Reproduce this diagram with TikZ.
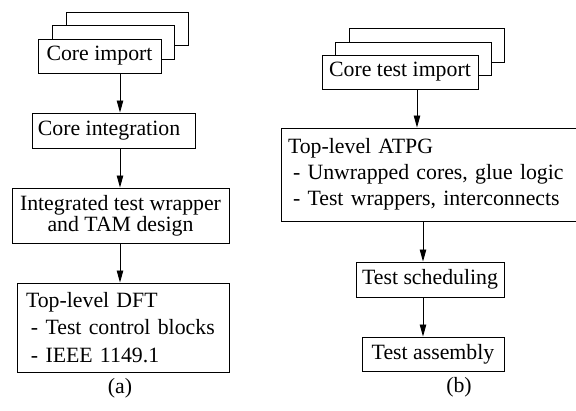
\documentclass[tikz,border=0pt]{standalone}
\usepackage{fontspec}
\setmainfont{Liberation Serif}
\usetikzlibrary{arrows.meta}
\begin{document}
\begin{tikzpicture}[x=1pt,y=-1pt,
  box/.style={draw,line width=1pt,fill=white,inner sep=0pt,font=\fontsize{21.8}{21}\selectfont},
  lbox/.style={box,align=left,inner xsep=#1},
  arr/.style={line width=0.9pt,-{Triangle[length=12pt,width=6.5pt]}},
  lbl/.style={font=\fontsize{21.8}{21}\selectfont,inner sep=0pt}
]
\useasboundingbox (0,0) rectangle (576,410);
% ---------- (a) ----------
\node[box,minimum width=122pt,minimum height=33pt] (ci3) at (127,28.5) {};
\node[box,minimum width=122pt,minimum height=34pt] (ci2) at (113,42) {};
\node[box,minimum width=123pt,minimum height=34pt] (ci) at (99.5,56) {Core import};
\node[box,minimum width=163pt,minimum height=35pt] (cint) at (113.5,130.5) {Core integration\hspace*{9pt}};
\node[box,minimum width=217pt,minimum height=55pt,align=center] (itw) at (120.5,215.5) {Integrated test wrapper\\and TAM design};
\node[lbox=9pt,text width=194pt,minimum height=89pt,font=\fontsize{21.8}{27.5}\selectfont] (dft) at (123,327.5)
  {Top-level DFT\\\hspace*{5pt}- Test control blocks\\\hspace*{5pt}- IEEE 1149.1};
\coordinate (xa) at (120,0);
\draw[arr] (xa |- ci.south) -- (xa |- cint.north);
\draw[arr] (xa |- cint.south) -- (xa |- itw.north);
\draw[arr] (xa |- itw.south) -- (xa |- dft.north);
\node[lbl] (capa) at (120,388) {(a)};
% ---------- (b) ----------
\node[box,minimum width=155pt,minimum height=34pt] (cti3) at (426.5,45) {};
\node[box,minimum width=156pt,minimum height=33pt] (cti2) at (413,58.5) {};
\node[box,minimum width=156pt,minimum height=34pt] (cti) at (400,72) {Core test import};
\node[lbox=7pt,text width=291pt,minimum height=93pt,font=\fontsize{21.8}{26}\selectfont] (atpg) at (433.5,174.5)
  {Top-level ATPG\\\hspace*{5pt}- Unwrapped cores, glue logic\\\hspace*{5pt}- Test wrappers, interconnects};
\node[box,minimum width=148pt,minimum height=35pt] (ts) at (430,279.5) {Test scheduling};
\node[box,minimum width=142pt,minimum height=34pt] (ta) at (433,354) {Test assembly};
\coordinate (xb) at (417,0);
\coordinate (xc) at (423,0);
\draw[arr] (xb |- cti.south) -- (xb |- atpg.north);
\draw[arr] (xc |- atpg.south) -- (xc |- ts.north);
\draw[arr] (xc |- ts.south) -- (xc |- ta.north);
\node[lbl] (capb) at (459,387) {(b)};
\end{tikzpicture}
\end{document}
